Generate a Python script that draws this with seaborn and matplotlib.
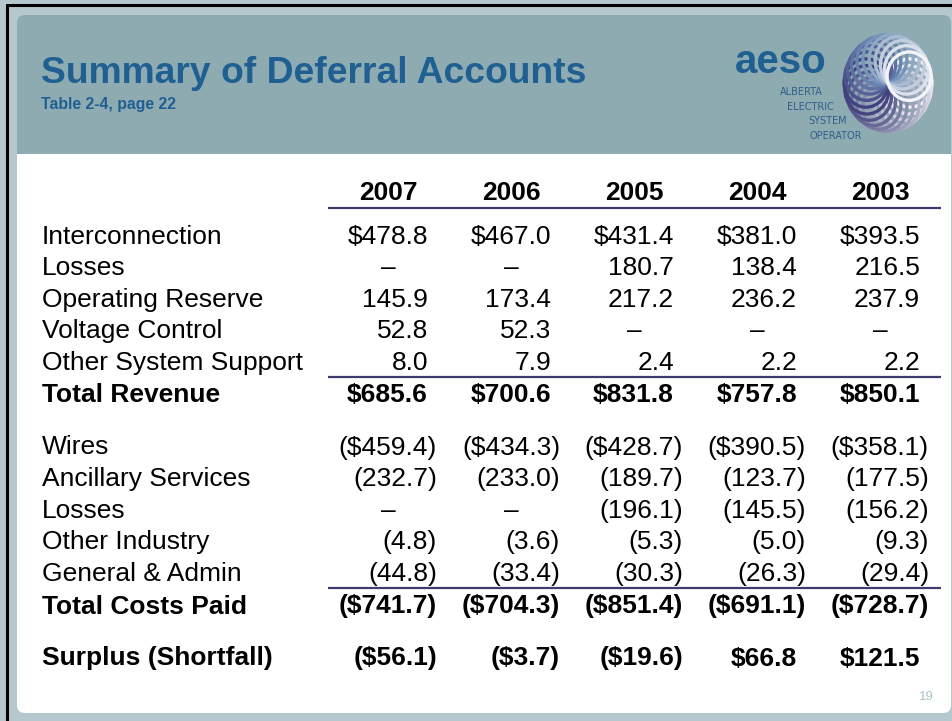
import numpy as np
import matplotlib
matplotlib.use('Agg')
import matplotlib.pyplot as plt
import seaborn as sns
from matplotlib.patches import Rectangle, FancyBboxPatch, Ellipse

# --- data -------------------------------------------------------------
title = 'Summary of Deferral Accounts'
subtitle = 'Table 2-4, page 22'
years = ['2007', '2006', '2005', '2004', '2003']

revenue_labels = ['Interconnection', 'Losses', 'Operating Reserve',
                  'Voltage Control', 'Other System Support']
interconnection = [478.8, 467.0, 431.4, 381.0, 393.5]
losses_revenue = [None, None, 180.7, 138.4, 216.5]
operating_reserve = [145.9, 173.4, 217.2, 236.2, 237.9]
voltage_control = [52.8, 52.3, None, None, None]
other_support = [8.0, 7.9, 2.4, 2.2, 2.2]
total_revenue = [685.6, 700.6, 831.8, 757.8, 850.1]

cost_labels = ['Wires', 'Ancillary Services', 'Losses',
               'Other Industry', 'General & Admin']
wires = [-459.4, -434.3, -428.7, -390.5, -358.1]
ancillary = [-232.7, -233.0, -189.7, -123.7, -177.5]
losses_cost = [None, None, -196.1, -145.5, -156.2]
other_industry = [-4.8, -3.6, -5.3, -5.0, -9.3]
general_admin = [-44.8, -33.4, -30.3, -26.3, -29.4]
total_costs = [-741.7, -704.3, -851.4, -691.1, -728.7]

surplus = [-56.1, -3.7, -19.6, 66.8, 121.5]
page_no = '19'

# --- style ------------------------------------------------------------
sns.set_theme(style='white')
plt.rcParams['font.family'] = ['Liberation Sans', 'DejaVu Sans']
plt.rcParams['text.color'] = 'black'

FRAME = '#b4c8cd'
HEADER = '#8eabb2'
BLUE = '#1f5f91'
RULE = '#3d3a6e'
FS = 19


def fmt(v, dollar=False):
    if v is None:
        return '\u2013'
    s = f'{abs(v):.1f}'
    if dollar:
        s = '$' + s
    return f'({s})' if v < 0 else s


fig = plt.figure(figsize=(9.52, 7.21), dpi=100, facecolor=FRAME)
ax = fig.add_axes([0, 0, 1, 1])
ax.set_xlim(0, 952)
ax.set_ylim(721, 0)
ax.axis('off')

# slide frame
ax.plot([6, 952], [5, 5], color='black', lw=2.2, solid_capstyle='butt')
ax.plot([7, 7], [4, 721], color='black', lw=2.2, solid_capstyle='butt')
ax.add_patch(FancyBboxPatch((17, 15), 934, 150, boxstyle='round,pad=0,rounding_size=8',
                            fc=HEADER, ec='none'))
ax.add_patch(FancyBboxPatch((17, 150), 934, 563, boxstyle='round,pad=0,rounding_size=8',
                            fc='white', ec='none'))
ax.add_patch(Rectangle((17, 150), 934, 10, fc='white', ec='none'))
ax.add_patch(Rectangle((17, 140), 934, 14, fc=HEADER, ec='none'))

# titles
ax.text(41, 83, title, fontsize=26.8, fontweight='bold', color=BLUE, va='baseline')
ax.text(41, 109, subtitle, fontsize=11.4, fontweight='bold', color=BLUE, va='baseline')

# logo
ax.text(735, 73, 'aeso', fontsize=29, fontweight='bold', color=BLUE, va='baseline')
for word, xc, yb in [('ALBERTA', 801, 95), ('ELECTRIC', 810, 110),
                     ('SYSTEM', 828, 124), ('OPERATOR', 836, 139)]:
    ax.text(xc, yb, word, fontsize=7, color='#2f5f88', ha='center', va='baseline',
            family='DejaVu Sans')
cx, cy, r = 888, 83, 44
n = 22
cmap = sns.blend_palette(['#f4f4f8', '#9a9ab8', '#3b3a78', '#6f8fb8', '#f4f4f8'], n_colors=n)
for k in range(n):
    th = 2 * np.pi * k / n
    ex = cx + 0.5 * r * np.cos(th)
    ey = cy + 0.55 * r * np.sin(th)
    ax.add_patch(Ellipse((ex, ey), r, r * 1.1, fc='none', ec=cmap[k], lw=2.4))

# table
col_right = [428, 551, 674, 797, 920]
paren_w = 9
line_x0, line_x1 = 328, 941


def cell(x, y, v, dollar=False, bold=False):
    s = fmt(v, dollar)
    w = 'bold' if bold else 'normal'
    if v is None:
        ax.text(x - 40, y + 8.5, s, fontsize=FS, fontweight=w, ha='center', va='baseline')
    elif s.endswith(')'):
        ax.text(x + paren_w, y + 8.5, s, fontsize=FS, fontweight=w, ha='right', va='baseline')
    else:
        ax.text(x, y + 8.5, s, fontsize=FS, fontweight=w, ha='right', va='baseline')


def row(y, label, values, dollar=False, bold=False):
    ax.text(42, y + 8.5, label, fontsize=FS, fontweight='bold' if bold else 'normal',
            va='baseline')
    for x, v in zip(col_right, values):
        cell(x, y, v, dollar, bold)


for x, yr in zip(col_right, years):
    ax.text(x - 40, 192 + 8.5, yr, fontsize=FS, fontweight='bold', ha='center', va='baseline')
ax.hlines(208, line_x0, line_x1, color=RULE, lw=1.6)

step = 31.6
rev_rows = [interconnection, losses_revenue, operating_reserve, voltage_control, other_support]
for i, (lab, vals) in enumerate(zip(revenue_labels, rev_rows)):
    row(235 + i * step, lab, vals, dollar=(i == 0))
ax.hlines(377, line_x0, line_x1, color=RULE, lw=1.6)
row(393, 'Total Revenue', total_revenue, dollar=True, bold=True)

cost_rows = [wires, ancillary, losses_cost, other_industry, general_admin]
for i, (lab, vals) in enumerate(zip(cost_labels, cost_rows)):
    row(446 + i * step, lab, vals, dollar=(i == 0))
ax.hlines(588, line_x0, line_x1, color=RULE, lw=1.6)
row(605, 'Total Costs Paid', total_costs, dollar=True, bold=True)

row(657, 'Surplus (Shortfall)', surplus, dollar=True, bold=True)

ax.text(926, 700, page_no, fontsize=9.5, color='#aac0c8', ha='center', va='baseline')

fig.savefig('out.png', dpi=100, facecolor=FRAME)
